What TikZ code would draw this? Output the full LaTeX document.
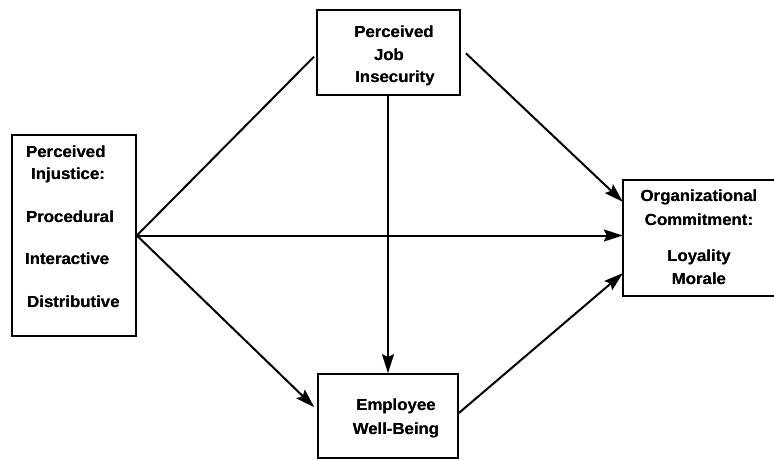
\documentclass[tikz,border=0pt]{standalone}
\usepackage{fontspec}
\usepackage[outline]{contour}
\newfontfamily\lblfont{Liberation Sans Bold}[FakeStretch=1.05]
\contourlength{0.35pt}
\contournumber{16}
\newcommand{\heavy}[1]{\contour{black}{#1}}
\usetikzlibrary{arrows.meta,calc}
\begin{document}
\begin{tikzpicture}[x=1pt,y=-1pt,
  box/.style={draw,line width=1.7pt,inner sep=0pt},
  lbl/.style={font=\fontsize{16}{18}\lblfont,inner sep=0pt,align=center},
  path/.style={line width=2pt},
  arr/.style={path,-{Stealth[length=19pt,width=12pt,inset=3pt]}}]
\useasboundingbox (0,0) rectangle (774,459);

% boxes
\node[box,minimum width=124pt,minimum height=201pt] (inj) at (74,235.5) {};
\node[box,minimum width=143pt,minimum height=85pt] (job) at (388.5,52.5) {};
\node[box,minimum width=140pt,minimum height=84pt] (wb) at (388,416) {};
% the commitment box runs into the right margin, so only three sides show
\node[inner sep=0pt,minimum width=151pt,minimum height=116pt] (org) at (698.5,238) {};
\draw[line width=1.7pt] (org.north east) -- (org.north west) -- (org.south west) -- (org.south east);

% labels
\node[lbl,anchor=west] (t1) at (26,152) {\heavy{Perceived}};
\node[lbl,anchor=west] (t2) at (31,175) {\heavy{Injustice:}};
\node[lbl,anchor=west] (t3) at (26,217) {\heavy{Procedural}};
\node[lbl,anchor=west] (t4) at (25,259) {\heavy{Interactive}};
\node[lbl,anchor=west] (t5) at (27,302) {\heavy{Distributive}};

\node[lbl] (j1) at (394,32) {\heavy{Perceived}};
\node[lbl] (j2) at (389,55) {\heavy{Job}};
\node[lbl] (j3) at (395,78) {\heavy{Insecurity}};

\node[lbl] (o1) at (699,197) {\heavy{Organizational}};
\node[lbl] (o2) at (699,220) {\heavy{Commitment:}};
\node[lbl] (o3) at (699,257) {\heavy{Loyality}};
\node[lbl] (o4) at (699,279) {\heavy{Morale}};

\node[lbl] (w1) at (396,406) {\heavy{Employee}};
\node[lbl] (w2) at (396,430) {\heavy{Well-Being}};

% connectors
\draw[path,shorten >=3pt] (inj.east) -- ($(job.west)+(0,2)$);
\draw[arr] (inj.east) -- (inj.east -| org.west);
\draw[arr,shorten >=4pt] (inj.east) -- ($(wb.west)+(0,-6)$);
\draw[arr] (job.south -| wb.north) -- (wb.north);
\draw[arr,shorten <=7pt] ($(job.east)+(0,-4)$) -- ($(org.north west)+(0,22)$);
\draw[arr] ($(wb.east)+(0,-3)$) -- ($(org.south west)+(0,-23)$);
\end{tikzpicture}
\end{document}
